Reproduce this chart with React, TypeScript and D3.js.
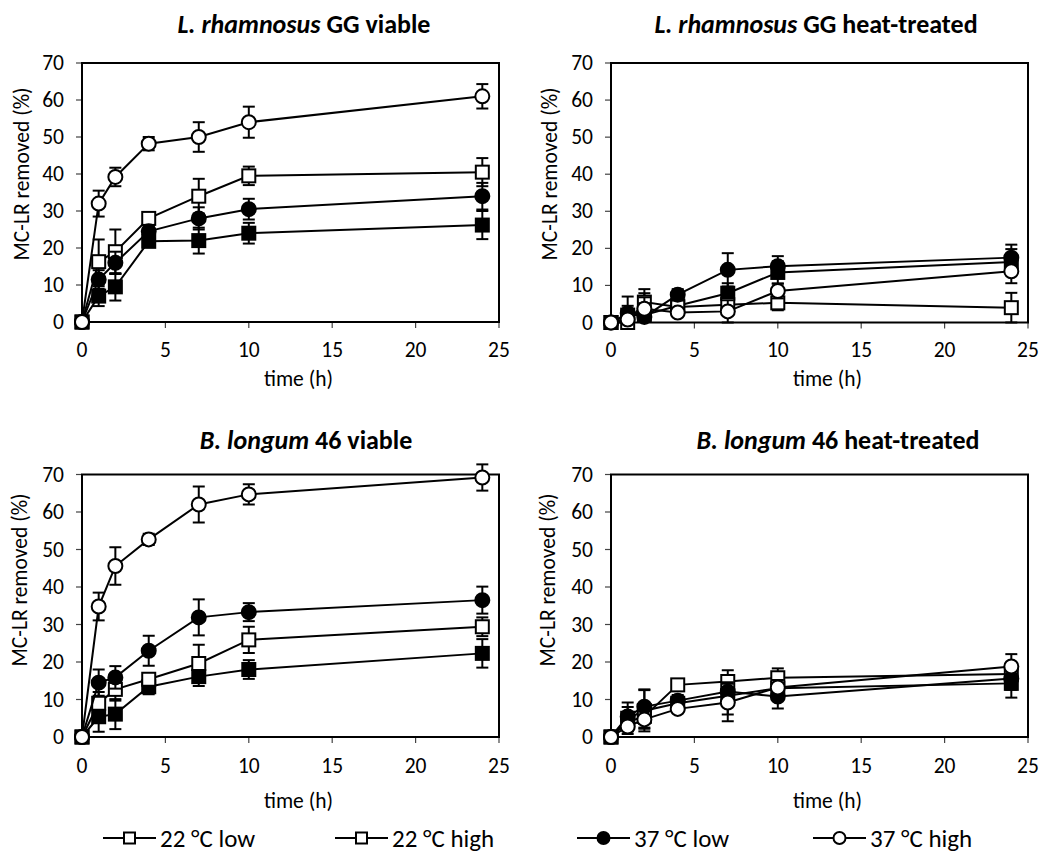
import React from "react";
import * as d3 from "d3";

const times = [0, 1, 2, 4, 7, 10, 24];
const seriesNames = ["22 °C low", "22 °C high", "37 °C low", "37 °C high"];
const seriesMarkers = ["squareFilled", "squareOpen", "circleFilled", "circleOpen"];
const legendMarkers = ["squareOpen", "squareOpen", "circleFilled", "circleOpen"];
const xTicks = [0, 5, 10, 15, 20, 25];
const yTicks = [0, 10, 20, 30, 40, 50, 60, 70];

// L. rhamnosus GG viable
const lggViableVals = [
  [0, 7, 9.5, 21.8, 22, 24, 26.2],
  [0, 16.3, 19, 28, 34, 39.5, 40.5],
  [0, 11.5, 16, 24.5, 28, 30.5, 34],
  [0, 32, 39.2, 48.2, 50, 54, 61],
];
const lggViableErr = [
  [0, 2.7, 3.7, 1.5, 3.5, 2.8, 3.8],
  [0, 6, 6, 1.5, 4.7, 2.5, 3.8],
  [0, 2.5, 3, 1.5, 3, 2.8, 3.6],
  [0, 3.5, 2.5, 1.8, 4, 4.2, 3.3],
];
// L. rhamnosus GG heat-treated
const lggHeatVals = [
  [0, 2, 2, 4.5, 7.9, 13.5, 16.3],
  [0, 0, 5.5, 4.2, 4.8, 5.3, 4],
  [0, 2.5, 1.5, 7.5, 14.2, 15.2, 17.5],
  [0, 0.8, 3.7, 2.7, 3, 8.5, 13.8],
];
const lggHeatErr = [
  [0, 2.5, 5.9, 1.5, 2.7, 3, 3.5],
  [0, 1.5, 3.5, 1.5, 1.5, 2, 4],
  [0, 4.5, 5.3, 1.5, 4.5, 2.7, 3.5],
  [0, 1, 1.5, 1, 3, 2, 3.2],
];
// B. longum 46 viable
const blViableVals = [
  [0, 5.4, 6.1, 13.4, 16.1, 18, 22.3],
  [0, 9, 12.7, 15.4, 19.6, 25.9, 29.4],
  [0, 14.5, 15.9, 23, 31.9, 33.3, 36.5],
  [0, 34.8, 45.6, 52.7, 62, 64.7, 69.2],
];
const blViableErr = [
  [0, 4, 4, 2, 2.5, 2.5, 3.8],
  [0, 3, 3, 1.5, 5, 3.5, 2.5],
  [0, 3.5, 3, 4, 4.8, 2.4, 3.6],
  [0, 3.7, 5, 1.5, 4.8, 2.7, 3.5],
];
// B. longum 46 heat-treated
const blHeatVals = [
  [0, 5, 7, 9, 11, 13, 14.3],
  [0, 4, 5.5, 13.9, 14.8, 15.8, 16.8],
  [0, 5.5, 8.1, 9.7, 12.1, 10.8, 15.6],
  [0, 2.8, 4.7, 7.5, 9.2, 13.2, 18.8],
];
const blHeatErr = [
  [0, 3, 5.5, 1.5, 5, 3, 3.8],
  [0, 2.5, 3, 1, 3, 2.5, 2.5],
  [0, 3.7, 4.6, 1.5, 2.5, 3.2, 3],
  [0, 2, 2.5, 1, 5, 2, 3.3],
];

const FONT = "Carlito, Calibri, Lato, sans-serif";
const TICK_FS = 21.5;
const TITLE_FS = 26;

type PanelDef = {
  italic: string;
  rest: string;
  vals: number[][];
  errs: number[][];
  x0: number;
  x1: number;
  yTop: number;
  yBot: number;
  titleX: number;
  titleY: number;
  yLabelX: number;
  yLabelY: number;
  tickLabelY: number;
  xLabelY: number;
};

const panels: PanelDef[] = [
  {
    italic: "L. rhamnosus", rest: " GG viable", vals: lggViableVals, errs: lggViableErr,
    x0: 82, x1: 499, yTop: 63, yBot: 322, titleX: 304, titleY: 33, yLabelX: 22, yLabelY: 174,
    tickLabelY: 350, xLabelY: 379,
  },
  {
    italic: "L. rhamnosus", rest: " GG heat-treated", vals: lggHeatVals, errs: lggHeatErr,
    x0: 611, x1: 1028, yTop: 63, yBot: 322.5, titleX: 816, titleY: 33, yLabelX: 550, yLabelY: 174,
    tickLabelY: 350, xLabelY: 379,
  },
  {
    italic: "B. longum", rest: " 46 viable", vals: blViableVals, errs: blViableErr,
    x0: 82, x1: 499, yTop: 474.5, yBot: 737, titleX: 306, titleY: 449, yLabelX: 20, yLabelY: 580,
    tickLabelY: 766, xLabelY: 801,
  },
  {
    italic: "B. longum", rest: " 46 heat-treated", vals: blHeatVals, errs: blHeatErr,
    x0: 611, x1: 1028, yTop: 474.5, yBot: 737, titleX: 838, titleY: 449, yLabelX: 548, yLabelY: 580,
    tickLabelY: 766, xLabelY: 801,
  },
];

function Marker({ kind, cx, cy, size }: { kind: string; cx: number; cy: number; size: number }) {
  const filled = kind.endsWith("Filled");
  const fill = filled ? "#000" : "#fff";
  if (kind.startsWith("square")) {
    return (
      <rect x={cx - size / 2} y={cy - size / 2} width={size} height={size}
        fill={fill} stroke="#000" strokeWidth={2} />
    );
  }
  return <circle cx={cx} cy={cy} r={size / 2 + 0.5} fill={fill} stroke="#000" strokeWidth={2} />;
}

function Panel({ p }: { p: PanelDef }) {
  const x = d3.scaleLinear().domain([0, 25]).range([p.x0, p.x1]);
  const y = d3.scaleLinear().domain([0, 70]).range([p.yBot, p.yTop]);
  const line = d3.line<number>().x((_, i) => x(times[i])).y((v) => y(v));
  const cap = 6;
  return (
    <g>
      <text x={p.titleX} y={p.titleY} textAnchor="middle" fontFamily={FONT} fontWeight="bold" fontSize={TITLE_FS}>
        <tspan fontStyle="italic">{p.italic}</tspan>
        <tspan>{p.rest}</tspan>
      </text>
      {xTicks.map((t) => (
        <g key={"xt" + t}>
          <line x1={x(t)} x2={x(t)} y1={p.yBot} y2={p.yBot + 6} stroke="#444" strokeWidth={1.2} />
          <text x={x(t)} y={p.tickLabelY} textAnchor="middle" dominantBaseline="central"
            fontFamily={FONT} fontSize={TICK_FS}>{t}</text>
        </g>
      ))}
      {yTicks.map((t) => (
        <g key={"yt" + t}>
          <line x1={p.x0 - 6} x2={p.x0} y1={y(t)} y2={y(t)} stroke="#444" strokeWidth={1.2} />
          <text x={p.x0 - 18} y={y(t)} textAnchor="end" dominantBaseline="central"
            fontFamily={FONT} fontSize={TICK_FS}>{t}</text>
        </g>
      ))}
      <rect x={p.x0} y={p.yTop} width={p.x1 - p.x0} height={p.yBot - p.yTop}
        fill="none" stroke="#000" strokeWidth={2} />
      <text x={(p.x0 + p.x1) / 2 + 8} y={p.xLabelY} textAnchor="middle" dominantBaseline="central"
        fontFamily={FONT} fontSize={TICK_FS}>time (h)</text>
      <text transform={`translate(${p.yLabelX},${p.yLabelY}) rotate(-90)`} textAnchor="middle"
        dominantBaseline="central" fontFamily={FONT} fontSize={TICK_FS}>MC-LR removed (%)</text>
      {p.vals.map((vals, si) => (
        <g key={"s" + si}>
          <path d={line(vals) || ""} fill="none" stroke="#000" strokeWidth={2} />
          {vals.map((v, i) => {
            const e = p.errs[si][i];
            if (!(e > 0)) return null;
            const hi = v + e;
            const lo = Math.max(0, v - e);
            const cx = x(times[i]);
            return (
              <g key={"e" + i} stroke="#000" strokeWidth={2}>
                <line x1={cx} x2={cx} y1={y(lo)} y2={y(hi)} />
                <line x1={cx - cap} x2={cx + cap} y1={y(hi)} y2={y(hi)} />
                {v - e >= 0 ? <line x1={cx - cap} x2={cx + cap} y1={y(lo)} y2={y(lo)} /> : null}
              </g>
            );
          })}
          {vals.map((v, i) => (
            <Marker key={"m" + i} kind={seriesMarkers[si]} cx={x(times[i])} cy={y(v)} size={13} />
          ))}
        </g>
      ))}
    </g>
  );
}

const legendX = [103, 335, 577, 813];
const legendY = 838;

export default function App() {
  return (
    <svg width={1040} height={854} style={{ position: "absolute", left: 0, top: 0, background: "#fff" }}>
      <rect width={1040} height={854} fill="#fff" />
      {panels.map((p, i) => (
        <Panel key={i} p={p} />
      ))}
      {seriesNames.map((name, i) => (
        <g key={"lg" + i}>
          <line x1={legendX[i]} x2={legendX[i] + 53} y1={legendY} y2={legendY} stroke="#000" strokeWidth={2} />
          <Marker kind={legendMarkers[i]} cx={legendX[i] + 26.5} cy={legendY} size={11} />
          <text x={legendX[i] + 57} y={legendY} dominantBaseline="central" fontFamily={FONT} fontSize={25}>
            {name}
          </text>
        </g>
      ))}
    </svg>
  );
}
